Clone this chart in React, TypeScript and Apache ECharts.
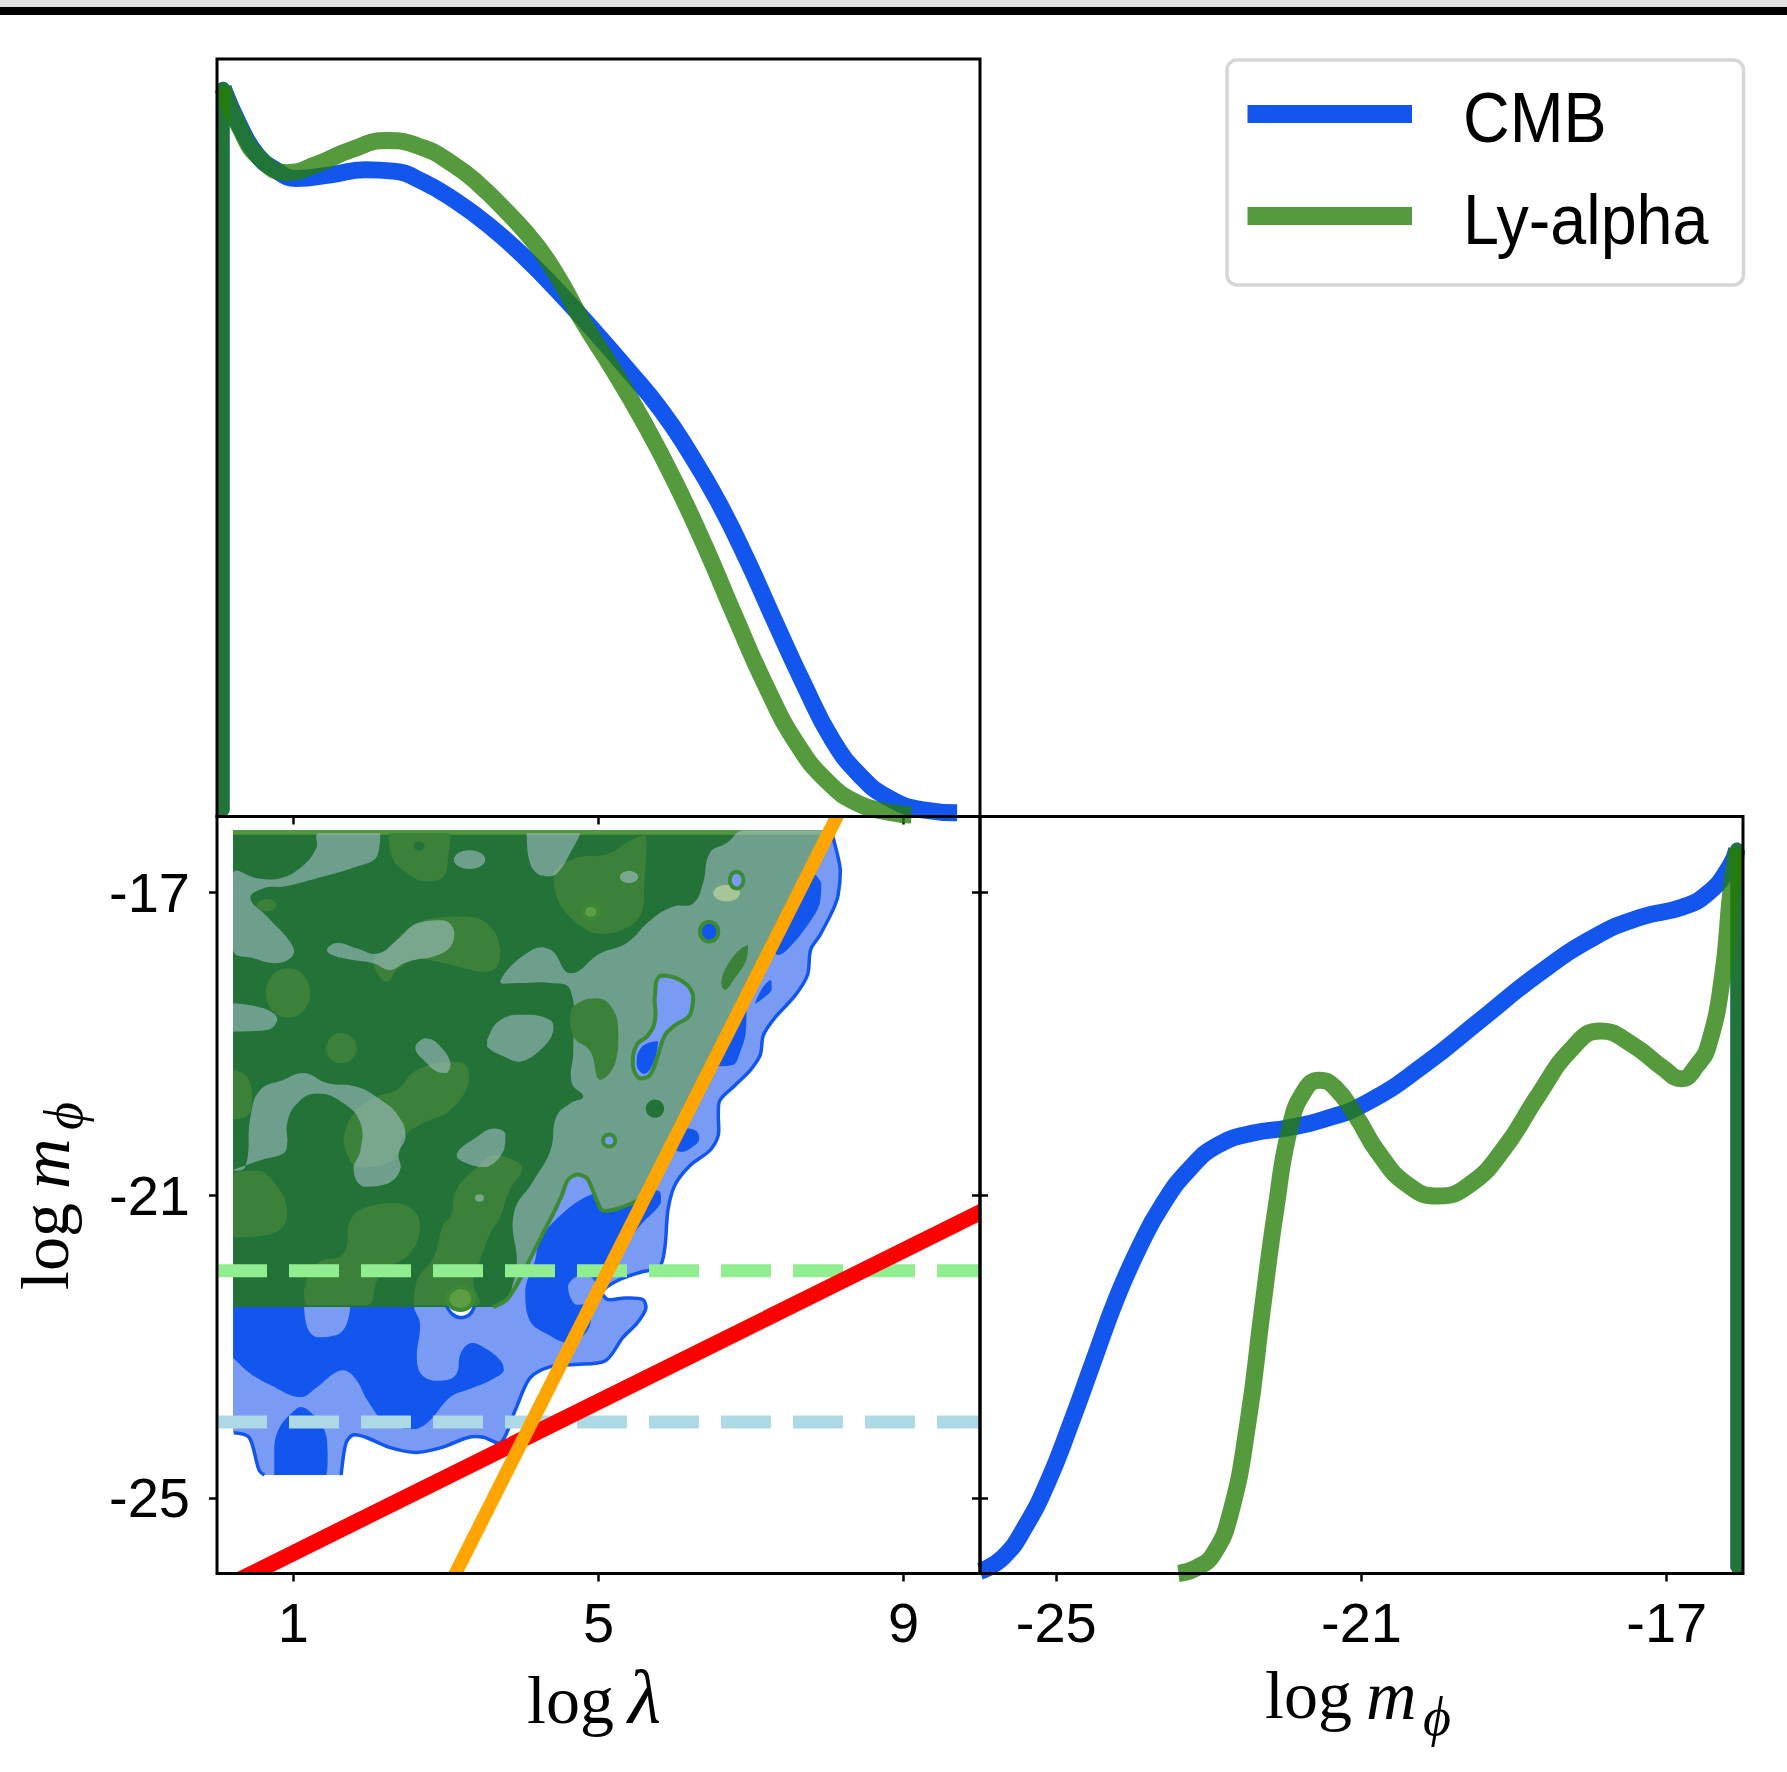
import React, { useEffect, useRef } from 'react';
import * as echarts from 'echarts';

type Pt = [number, number];
type Blob = [number, number, number, number]; // centre λ, centre m, radius λ, radius m

// ---------- 1-D marginal of log λ (top panel) ----------
const TOP_LAMBDA_CMB = [0.08, 0.30, 0.52, 0.75, 1.04, 1.49, 1.94, 2.31, 2.69, 3.13, 3.58, 4.03, 4.48, 4.93, 5.37, 5.82, 6.19, 6.57, 6.94, 7.31, 7.69, 8.06, 8.43, 8.81, 9.25, 9.70];
const TOP_DENS_CMB = [1.0, 0.948, 0.909, 0.889, 0.876, 0.881, 0.888, 0.886, 0.872, 0.845, 0.810, 0.768, 0.720, 0.668, 0.615, 0.558, 0.500, 0.432, 0.354, 0.268, 0.182, 0.106, 0.056, 0.025, 0.009, 0.005];
const TOP_LAMBDA_LYA = [0.08, 0.30, 0.55, 0.92, 1.30, 1.75, 2.23, 2.70, 3.10, 3.40, 3.80, 4.19, 4.50, 4.78, 5.20, 5.60, 6.00, 6.40, 6.80, 7.20, 7.60, 8.00, 8.40, 8.80, 9.10];
const TOP_DENS_LYA = [1.0, 0.945, 0.905, 0.884, 0.895, 0.915, 0.928, 0.918, 0.895, 0.871, 0.830, 0.784, 0.735, 0.682, 0.612, 0.540, 0.460, 0.370, 0.272, 0.178, 0.100, 0.048, 0.018, 0.006, 0.002];
const LAMBDA_EDGE = 0.08;

// ---------- 1-D marginal of log m_phi (right panel) ----------
const RIGHT_M_CMB = [-26.0, -25.70, -25.40, -25.10, -24.81, -24.51, -24.21, -23.91, -23.61, -23.24, -22.87, -22.42, -21.97, -21.52, -20.93, -20.18, -19.43, -18.69, -17.94, -17.34, -16.79, -16.45, -16.18, -16.08];
const RIGHT_DENS_CMB = [0.003, 0.022, 0.066, 0.129, 0.207, 0.294, 0.380, 0.451, 0.509, 0.560, 0.592, 0.608, 0.615, 0.626, 0.650, 0.702, 0.765, 0.827, 0.879, 0.906, 0.920, 0.940, 0.975, 1.0];
const RIGHT_M_LYA = [-23.40, -23.16, -22.94, -22.72, -22.49, -22.30, -22.12, -21.94, -21.75, -21.55, -21.34, -21.07, -20.78, -20.40, -20.00, -19.58, -19.13, -18.69, -18.24, -17.87, -17.45, -17.04, -16.81, -16.60, -16.45, -16.27, -16.16, -16.08];
const RIGHT_DENS_LYA = [0.0, 0.008, 0.027, 0.082, 0.207, 0.364, 0.505, 0.615, 0.666, 0.681, 0.670, 0.631, 0.581, 0.537, 0.521, 0.537, 0.587, 0.659, 0.725, 0.749, 0.730, 0.697, 0.683, 0.702, 0.730, 0.823, 0.940, 1.0];
const M_EDGE = -16.08;

const SERIES_NAMES = ['CMB', 'Ly-alpha'];
const LAMBDA_TICKS = [1, 5, 9];
const M_TICKS = [-25, -21, -17];

// ---------- reference lines of the 2-D panel ----------
const GREEN_DASH_M = -22;
const BLUE_DASH_M = -24;
const RED_LINE: Pt[] = [[0, -26.23], [10.5, -20.98]];
const ORANGE_LINE: Pt[] = [[3.0, -26.25], [8.3, -15.65]];

// ---------- CMB contours ----------
const CMB_OUTER_TOP: Pt[] = [[0.21, -16.23], [0.25, -16.23], [2, -16.23], [4, -16.23], [6, -16.23], [8.0, -16.23]];
const CMB_OUTER_EDGE: Pt[] = [
  [8.06, -16.23], [8.17, -16.71], [8.14, -17.04], [8.07, -17.24], [7.90, -17.57], [7.78, -17.76], [7.74, -18.09],
  [7.58, -18.36], [7.31, -18.66], [7.16, -18.89], [7.12, -19.15], [6.99, -19.35], [6.79, -19.55], [6.59, -19.75],
  [6.57, -19.95], [6.57, -20.21], [6.46, -20.41], [6.20, -20.61], [6.00, -20.87], [5.91, -21.20], [5.87, -21.69],
  [5.80, -21.95], [5.55, -22.02], [5.25, -22.13], [5.05, -22.28], [5.12, -22.38], [5.35, -22.36], [5.58, -22.38],
  [5.62, -22.50], [5.50, -22.70], [5.32, -22.88], [5.09, -23.19], [4.69, -23.24], [4.36, -23.27], [4.10, -23.42],
  [3.91, -23.84], [3.72, -24.27], [3.49, -24.20], [3.30, -24.20], [2.96, -24.33], [2.61, -24.40], [2.25, -24.33],
  [1.95, -24.20], [1.78, -24.17], [1.69, -24.28], [1.63, -24.66], [1.63, -24.70],
];
const CMB_OUTER_FOOT: Pt[] = [[1.59, -24.70], [0.66, -24.70], [0.62, -24.70], [0.55, -24.63], [0.42, -24.20], [0.22, -24.14]];
const CMB_OUTER_LEFT: Pt[] = [[0.21, -24.10], [0.21, -22], [0.21, -20], [0.21, -18], [0.21, -16.27]];

const CMB_DARK: Pt[][] = [
  [[0.21, -22.3], [0.21, -23.14], [0.24, -23.18], [0.44, -23.36], [0.70, -23.51], [1.09, -23.67], [1.31, -23.54], [1.53, -23.36],
   [1.68, -23.32], [1.83, -23.45], [1.97, -23.71], [2.18, -23.98], [2.45, -24.09], [2.62, -24.09], [2.79, -23.98], [3.06, -23.67],
   [3.32, -23.56], [3.58, -23.45], [3.76, -23.32], [3.71, -23.18], [3.49, -23.01], [3.32, -22.96], [3.19, -23.10], [3.14, -23.36],
   [2.97, -23.45], [2.71, -23.40], [2.62, -23.18], [2.66, -22.70], [2.58, -22.48], [2.58, -22.3]],
  [[0.75, -24.70], [0.75, -24.33], [0.82, -24.07], [0.99, -23.87], [1.10, -23.80], [1.25, -23.89], [1.41, -24.11], [1.45, -24.42], [1.43, -24.70]],
  [[7.72, -16.7], [7.92, -16.88], [7.90, -17.15], [7.73, -17.45], [7.51, -17.72], [7.36, -17.83], [7.28, -17.75], [7.45, -17.32], [7.6, -16.97]],
  [[7.05, -18.47], [7.07, -18.42], [7.16, -18.25], [7.26, -18.16], [7.27, -18.29], [7.16, -18.40]],
  [[6.57, -19.30], [6.72, -19.0], [6.90, -18.64], [6.94, -18.56], [6.93, -18.86], [6.85, -19.13], [6.77, -19.28]],
  [[6.02, -20.41], [6.16, -20.12], [6.29, -20.16], [6.32, -20.27], [6.24, -20.36], [6.11, -20.43]],
  [[4.23, -21.6], [4.5, -21.27], [4.89, -21.0], [5.35, -20.9], [5.8, -20.95], [5.82, -21.1], [5.55, -21.4], [5.3, -21.72],
   [5.1, -21.9], [4.98, -22.15], [4.92, -22.5], [4.85, -22.8], [4.6, -22.95], [4.35, -22.85], [4.1, -22.66], [4.04, -22.26], [4.17, -21.86]],
];
const CMB_LIGHT: Pt[][] = [
  [[1.14, -22.4], [1.75, -22.4], [1.70, -22.70], [1.57, -22.85], [1.31, -22.88], [1.18, -22.74]],
  [[4.6, -22.2], [4.8, -22.05], [4.95, -22.15], [4.9, -22.4], [4.7, -22.45]],
];
const CMB_GAP: Pt[] = [[3.0, -22.44], [3.08, -22.57], [3.2, -22.62], [3.32, -22.57], [3.38, -22.44]];

// ---------- Ly-alpha contours ----------
const LYA_EDGE: Pt[] = [
  [5.545, -21.06], [5.25, -21.18], [5.05, -21.2], [4.95, -21.0], [4.85, -20.78], [4.72, -20.73], [4.60, -20.8], [4.52, -21.0],
  [4.42, -21.22], [4.30, -21.45], [4.15, -21.75], [3.95, -22.15], [3.80, -22.38], [3.62, -22.48],
];
const LYA_BASE_TOP: Pt[] = [[0.21, -16.18], [0.25, -16.18], [2, -16.18], [4, -16.18], [6, -16.18], [7.95, -16.18], [7.985, -16.18],
  [7.485, -17.18], [6.985, -18.18], [6.485, -19.18], [5.985, -20.18]];
const LYA_BASE_BOTTOM: Pt[] = [[3.55, -22.48], [2.5, -22.48], [1.2, -22.48], [0.25, -22.48], [0.21, -22.48], [0.21, -22.44],
  [0.21, -21], [0.21, -19], [0.21, -17.5], [0.21, -16.22]];
const LYA_RIM: Pt[] = [[0.21, -16.18], [7.985, -16.18], [7.955, -16.24], [0.21, -16.24]];

const LYA_MID: Pt[][] = [
  [[2.25, -16.22], [3.06, -16.22], [3.03, -16.53], [2.97, -16.79], [2.75, -16.86], [2.49, -16.75], [2.29, -16.53]],
  [[2.05, -17.89], [2.23, -17.76], [2.49, -17.50], [2.84, -17.34], [3.28, -17.32], [3.58, -17.45], [3.71, -17.76], [3.67, -17.98],
   [3.49, -18.05], [3.23, -18.00], [2.97, -17.94], [2.62, -17.89], [2.36, -18.03], [2.23, -18.18], [2.10, -18.07]],
  [[1.66, -20.23], [1.83, -19.88], [2.10, -19.70], [2.36, -19.61], [2.62, -19.35], [3.06, -19.24], [3.28, -19.30], [3.30, -19.52],
   [3.06, -19.88], [2.71, -20.05], [2.45, -20.23], [2.36, -20.49], [2.05, -20.63], [1.83, -20.63], [1.70, -20.45]],
  [[3.06, -21.29], [3.14, -20.93], [3.41, -20.63], [3.62, -20.47], [3.89, -20.54], [4.00, -20.65], [3.84, -20.93], [3.71, -21.29],
   [3.58, -21.51], [3.45, -21.86], [3.36, -22.13], [3.41, -22.46], [2.58, -22.46], [2.62, -22.13], [2.84, -21.82], [2.97, -21.38]],
  [[1.18, -22.46], [1.14, -22.26], [1.31, -21.91], [1.66, -21.77], [1.75, -21.33], [1.97, -21.16], [2.36, -21.11], [2.62, -21.25],
   [2.66, -21.47], [2.53, -21.77], [2.27, -21.95], [2.10, -22.13], [1.97, -22.46]],
  [[0.21, -20.72], [0.55, -20.68], [0.80, -20.9], [0.92, -21.2], [0.88, -21.4], [0.66, -21.53], [0.21, -21.56]],
  [[0.21, -19.35], [0.4, -19.45], [0.46, -19.75], [0.4, -19.95], [0.21, -20.0]],
  [[4.41, -16.75], [4.7, -16.55], [5.1, -16.5], [5.45, -16.3], [5.63, -16.24], [5.6, -16.9], [5.55, -17.3], [5.3, -17.5],
   [5.02, -17.55], [4.85, -17.5], [4.6, -17.3], [4.45, -17.05]],
];
const LYA_MID_BLOBS: Blob[] = [[0.93, -18.33, 0.29, 0.33], [1.63, -19.06, 0.2, 0.2], [0.65, -17.17, 0.13, 0.08]];

const LYA_PALE: Pt[][] = [
  [[0.21, -16.75], [0.524, -16.815], [0.830, -16.815], [1.114, -16.661], [1.301, -16.419], [1.332, -16.22], [2.140, -16.22],
   [2.096, -16.529], [1.834, -16.661], [1.310, -16.815], [0.873, -16.925], [0.611, -16.947], [0.437, -17.079], [0.655, -17.322],
   [0.983, -17.696], [0.983, -17.850], [0.764, -17.938], [0.480, -17.872], [0.21, -17.762]],
  [[4.06, -16.22], [4.76, -16.22], [4.63, -16.48], [4.50, -16.70], [4.37, -16.79], [4.19, -16.75], [4.08, -16.53]],
  [[1.44, -17.76], [1.57, -17.67], [1.83, -17.74], [2.10, -17.81], [2.36, -17.63], [2.62, -17.41], [2.97, -17.37], [3.11, -17.52],
   [3.06, -17.72], [2.84, -17.85], [2.62, -17.89], [2.45, -17.94], [2.27, -18.03], [2.05, -17.94], [1.75, -17.89], [1.51, -17.83]],
  [[0.21, -18.47], [0.52, -18.51], [0.74, -18.60], [0.79, -18.69], [0.66, -18.82], [0.21, -18.84]],
  [[2.62, -19.00], [2.75, -18.93], [2.93, -19.04], [3.06, -19.26], [3.01, -19.39], [2.88, -19.37], [2.71, -19.22], [2.60, -19.08]],
  [[3.54, -18.95], [3.71, -18.69], [4.02, -18.62], [4.37, -18.69], [4.41, -18.82], [4.28, -19.04], [3.97, -19.24], [3.76, -19.17], [3.54, -19.04]],
  [[0.21, -20.67], [0.37, -20.63], [0.44, -19.96], [0.57, -19.61], [0.87, -19.48], [1.14, -19.39], [1.44, -19.52], [1.83, -19.57],
   [2.14, -19.74], [2.38, -19.96], [2.47, -20.23], [2.38, -20.45], [2.40, -20.67], [2.23, -20.85], [1.92, -20.89], [1.79, -20.67],
   [1.88, -20.41], [1.88, -20.05], [1.66, -19.79], [1.31, -19.66], [1.05, -19.79], [0.92, -20.05], [0.92, -20.32], [0.87, -20.45], [0.57, -20.54]],
  [[3.14, -20.47], [3.41, -20.23], [3.62, -20.12], [3.78, -20.19], [3.76, -20.41], [3.54, -20.63], [3.32, -20.60]],
  [[6.90, -16.18], [7.94, -16.18], [7.46, -17.14], [6.96, -18.14], [6.46, -19.14], [5.96, -20.14], [5.52, -21.04], [5.25, -21.16],
   [5.05, -21.18], [4.95, -21.0], [4.85, -20.80], [4.72, -20.75], [4.60, -20.82], [4.52, -21.0], [4.42, -21.22], [4.30, -21.45],
   [4.15, -21.75], [3.97, -22.12], [3.86, -22.28], [3.93, -21.91], [3.89, -21.25], [4.15, -20.81], [4.37, -20.41], [4.45, -19.96],
   [4.63, -19.79], [4.80, -19.70], [4.65, -19.52], [4.67, -19.08], [4.63, -18.29], [4.37, -18.20], [3.93, -18.20], [3.71, -18.18],
   [4.10, -17.78], [4.37, -17.76], [4.63, -18.07], [5.02, -17.81], [5.37, -17.67], [5.68, -17.37], [5.98, -17.19], [6.24, -17.15],
   [6.37, -16.88], [6.46, -16.48], [6.68, -16.35]],
];
const LYA_PALE_BLOBS: Blob[] = [[3.31, -16.57, 0.205, 0.123], [5.40, -16.80, 0.12, 0.08], [3.44, -21.04, 0.06, 0.05]];

const LYA_MID_UPPER: Pt[][] = [
  [[4.63, -18.64], [4.72, -18.47], [5.0, -18.4], [5.19, -18.55], [5.26, -18.86], [5.22, -19.26], [5.02, -19.48], [4.89, -19.1], [4.67, -18.91]],
  [[6.61, -18.20], [6.68, -17.98], [6.85, -17.76], [6.96, -17.70], [6.94, -17.89], [6.77, -18.16], [6.66, -18.29]],
];
const LYA_LIGHT_BLOBS: Blob[] = [[6.68, -17.01, 0.175, 0.11]];
const LYA_DARK_BLOBS: Blob[] = [[5.74, -19.86, 0.12, 0.12], [2.65, -16.39, 0.07, 0.06]];

// islands ringed by the Ly-alpha contour line
const RING_PALE: Blob[] = [[6.81, -16.84, 0.09, 0.11], [5.14, -20.28, 0.08, 0.08]];
const RING_DEEP: Blob[] = [[6.45, -17.52, 0.12, 0.13]];
const RING_GREEN: Blob[] = [[4.90, -17.26, 0.1, 0.09], [3.19, -22.37, 0.17, 0.15]];
const PEANUT: Pt[] = [[5.81, -18.10], [6.07, -18.16], [6.24, -18.36], [6.20, -18.62], [6.00, -18.76], [5.87, -18.89], [5.78, -19.15],
  [5.67, -19.42], [5.54, -19.46], [5.45, -19.28], [5.50, -19.02], [5.65, -18.89], [5.74, -18.69], [5.74, -18.36]];
const PEANUT_CORE: Pt[] = [[5.78, -18.97], [5.72, -19.25], [5.6, -19.40], [5.5, -19.28], [5.56, -19.05]];

// ---------- colours ----------
const BLUE = '#1356ee';
const BLUE_LIGHT = '#7a9bf3';
const GREEN_LINE = 'rgb(37,126,6)';
const GREEN_ALPHA = 0.78;
const GREEN_DARK = '#237339';
const GREEN_MID = '#3b8139';
const GREEN_RIM = '#52963f';
const GREEN_EDGE = '#3d8a35';
const PALE = 'rgba(185,204,226,0.5)';

const SANS = 'Liberation Sans';
const SERIF = 'Liberation Serif';

function bounds(pts: number[][]) {
  let x0 = Infinity, y0 = Infinity, x1 = -Infinity, y1 = -Infinity;
  for (const p of pts) {
    x0 = Math.min(x0, p[0]); y0 = Math.min(y0, p[1]);
    x1 = Math.max(x1, p[0]); y1 = Math.max(y1, p[1]);
  }
  return [[x0, y0], [x1, y1]];
}

// filled (or stroked) contour pieces drawn in the 2-D panel
function shapeLayer(shapes: { pts: Pt[]; frame?: Pt[]; closed?: boolean }[], style: any, smooth: number, z = 2) {
  return {
    type: 'custom', xAxisIndex: 1, yAxisIndex: 1, z, silent: true, clip: true,
    data: shapes.map((s, i) => [s.pts[0][0], s.pts[0][1], i]),
    encode: { x: 0, y: 1 },
    renderItem: (params: any, api: any) => {
      const s = shapes[params.dataIndex];
      const pts = s.pts.map((p) => api.coord(p));
      const frame = (s.frame || s.pts).map((p) => api.coord(p));
      return {
        type: s.closed === false ? 'polyline' : 'polygon',
        shape: { points: pts, smooth, smoothConstraint: bounds(frame) },
        style,
      };
    },
  };
}

function blobLayer(blobs: Blob[], style: any, z = 2) {
  return {
    type: 'custom', xAxisIndex: 1, yAxisIndex: 1, z, silent: true, clip: true,
    data: blobs.map((b) => [b[0], b[1]]),
    encode: { x: 0, y: 1 },
    renderItem: (params: any, api: any) => {
      const b = blobs[params.dataIndex];
      const c = api.coord([b[0], b[1]]);
      const s = api.size([b[2], b[3]]);
      return { type: 'ellipse', shape: { cx: c[0], cy: c[1], rx: s[0], ry: s[1] }, style };
    },
  };
}

function straightLayer(lines: Pt[][], style: any, z: number) {
  return {
    type: 'custom', xAxisIndex: 1, yAxisIndex: 1, z, silent: true, clip: true,
    data: lines.map((l) => [l[0][0], l[0][1], l[1][0], l[1][1]]),
    encode: { x: [0, 2], y: [1, 3] },
    renderItem: (params: any, api: any) => {
      const l = lines[params.dataIndex];
      const a = api.coord(l[0]);
      const b = api.coord(l[1]);
      return { type: 'line', shape: { x1: a[0], y1: a[1], x2: b[0], y2: b[1] }, style };
    },
  };
}

const zip = (xs: number[], ys: number[]) => xs.map((x, i) => [x, ys[i]]);

function curve(xi: number, yi: number, data: number[][], color: string, opacity: number, width: number, smooth: number | boolean, cap: string) {
  return {
    type: 'line', xAxisIndex: xi, yAxisIndex: yi, data, smooth, symbol: 'none', silent: true, z: 3,
    lineStyle: { color, width, opacity, cap, join: 'round' },
  };
}

function buildOption() {
  const cmbOuter = [...CMB_OUTER_TOP, ...CMB_OUTER_EDGE, ...CMB_OUTER_FOOT, ...CMB_OUTER_LEFT];
  const lyaBase = [...LYA_BASE_TOP, ...LYA_EDGE, ...LYA_BASE_BOTTOM];
  const tickStyle = { show: true, length: 8, lineStyle: { color: '#000', width: 2.5 } };
  const labelStyle = { color: '#000', fontSize: 56, fontFamily: SANS };

  const gridBase = { show: true, borderColor: '#000', borderWidth: 3, backgroundColor: 'transparent', z: 50 };

  const series: any[] = [
    // CMB contours
    shapeLayer([{ pts: cmbOuter }], { fill: BLUE_LIGHT, stroke: 'none' }, 0.3),
    shapeLayer(CMB_DARK.map((p) => ({ pts: p })), { fill: BLUE, stroke: 'none' }, 0.4),
    shapeLayer(CMB_LIGHT.map((p) => ({ pts: p })), { fill: BLUE_LIGHT, stroke: 'none' }, 0.4),
    shapeLayer([{ pts: CMB_GAP }], { fill: '#ffffff', stroke: BLUE, lineWidth: 3.5 }, 0.4),
    shapeLayer([
      { pts: CMB_OUTER_EDGE, frame: cmbOuter, closed: false },
      { pts: CMB_OUTER_FOOT.slice(2), frame: cmbOuter, closed: false },
    ], { fill: 'none', stroke: BLUE, lineWidth: 3.5, lineJoin: 'round' }, 0.3),
    // Ly-alpha contours
    shapeLayer([{ pts: lyaBase }], { fill: GREEN_DARK, stroke: 'none' }, 0.3),
    shapeLayer([{ pts: LYA_RIM }], { fill: GREEN_RIM, stroke: 'none' }, 0),
    shapeLayer(LYA_MID.map((p) => ({ pts: p })), { fill: GREEN_MID, stroke: 'none' }, 0.45),
    blobLayer(LYA_MID_BLOBS, { fill: GREEN_MID }),
    shapeLayer(LYA_PALE.map((p) => ({ pts: p })), { fill: PALE, stroke: 'none' }, 0.45),
    blobLayer(LYA_PALE_BLOBS, { fill: PALE }),
    shapeLayer(LYA_MID_UPPER.map((p) => ({ pts: p })), { fill: GREEN_MID, stroke: 'none' }, 0.45),
    blobLayer(LYA_LIGHT_BLOBS, { fill: '#a6c697' }),
    blobLayer(LYA_DARK_BLOBS, { fill: GREEN_DARK }),
    shapeLayer([{ pts: LYA_EDGE, frame: lyaBase, closed: false }], { fill: 'none', stroke: GREEN_EDGE, lineWidth: 4, lineJoin: 'round' }, 0.3),
    shapeLayer([{ pts: PEANUT }], { fill: BLUE_LIGHT, stroke: 'none' }, 0.45),
    shapeLayer([{ pts: PEANUT_CORE }], { fill: BLUE, stroke: 'none' }, 0.45),
    shapeLayer([{ pts: PEANUT }], { fill: 'none', stroke: GREEN_EDGE, lineWidth: 4 }, 0.45),
    blobLayer(RING_PALE, { fill: BLUE_LIGHT, stroke: GREEN_EDGE, lineWidth: 4 }),
    blobLayer(RING_DEEP, { fill: BLUE, stroke: GREEN_EDGE, lineWidth: 4 }),
    blobLayer(RING_GREEN, { fill: '#5d9d46', stroke: GREEN_EDGE, lineWidth: 4 }),
    // bounds drawn over the posteriors
    straightLayer([[[0, GREEN_DASH_M], [10, GREEN_DASH_M]]], { stroke: '#90ee90', lineWidth: 13, lineDash: [50, 22], lineCap: 'butt' }, 3),
    straightLayer([[[0, BLUE_DASH_M], [10, BLUE_DASH_M]]], { stroke: '#add8e6', lineWidth: 13, lineDash: [50, 22], lineCap: 'butt' }, 3),
    straightLayer([RED_LINE], { stroke: '#ff0000', lineWidth: 16, lineCap: 'butt' }, 4),
    straightLayer([ORANGE_LINE], { stroke: '#ffa500', lineWidth: 13.5, lineCap: 'butt' }, 5),
    // marginals
    curve(0, 0, [[LAMBDA_EDGE, 0.009], [LAMBDA_EDGE, 1.0]], BLUE, 1, 13, false, 'round'),
    curve(0, 0, zip(TOP_LAMBDA_CMB, TOP_DENS_CMB), BLUE, 1, 17, 0.5, 'butt'),
    curve(0, 0, [[LAMBDA_EDGE, 0.009], [LAMBDA_EDGE, 1.0]], GREEN_LINE, GREEN_ALPHA, 13, false, 'round'),
    curve(0, 0, zip(TOP_LAMBDA_LYA, TOP_DENS_LYA), GREEN_LINE, GREEN_ALPHA, 17, 0.5, 'butt'),
    curve(2, 3, zip(RIGHT_M_CMB, RIGHT_DENS_CMB), BLUE, 1, 17, 0.5, 'butt'),
    curve(2, 3, [[M_EDGE, 1.0], [M_EDGE, 0.009]], BLUE, 1, 13, false, 'round'),
    curve(2, 3, zip(RIGHT_M_LYA, RIGHT_DENS_LYA), GREEN_LINE, GREEN_ALPHA, 17, 0.5, 'butt'),
    curve(2, 3, [[M_EDGE, 1.0], [M_EDGE, 0.009]], GREEN_LINE, GREEN_ALPHA, 13, false, 'round'),
  ];

  const legendTexts = SERIES_NAMES.map((name, i) => ({
    type: 'text', x: 1463, y: i === 0 ? 117 : 219, scaleX: 0.91, z: 101,
    style: { text: name, fill: '#000', font: `71px "${SANS}"`, textAlign: 'left', textVerticalAlign: 'middle' },
  }));
  const legendLines = SERIES_NAMES.map((_, i) => ({
    type: 'line', z: 101,
    shape: { x1: 1247.5, y1: i === 0 ? 114 : 216, x2: 1412, y2: i === 0 ? 114 : 216 },
    style: { stroke: i === 0 ? BLUE : GREEN_LINE, opacity: i === 0 ? 1 : GREEN_ALPHA, lineWidth: 18, lineCap: 'butt' },
  }));

  const serifFont = (size: number, italic: boolean) => `${italic ? 'italic ' : ''}${size}px "${SERIF}"`;

  return {
    animation: false,
    backgroundColor: '#ffffff',
    grid: [
      { ...gridBase, left: 217, top: 59, width: 763, height: 757.5 },
      { ...gridBase, left: 217, top: 816.5, width: 763, height: 757 },
      { ...gridBase, left: 980, top: 816.5, width: 763, height: 757 },
    ],
    xAxis: [
      { gridIndex: 0, type: 'value', min: 0, max: 10, axisLine: { show: false }, splitLine: { show: false },
        axisTick: { ...tickStyle, customValues: LAMBDA_TICKS }, axisLabel: { show: false } },
      { gridIndex: 1, type: 'value', min: 0, max: 10, axisLine: { show: false }, splitLine: { show: false },
        axisTick: { ...tickStyle, customValues: LAMBDA_TICKS },
        axisLabel: { ...labelStyle, margin: 21, customValues: LAMBDA_TICKS } },
      { gridIndex: 2, type: 'value', min: -26, max: -16, axisLine: { show: false }, splitLine: { show: false },
        axisTick: { ...tickStyle, customValues: M_TICKS },
        axisLabel: { ...labelStyle, margin: 21, customValues: M_TICKS } },
    ],
    yAxis: [
      { gridIndex: 0, type: 'value', min: 0, max: 1.04, show: false },
      { gridIndex: 1, type: 'value', min: -26, max: -16, position: 'left', axisLine: { show: false }, splitLine: { show: false },
        axisTick: { ...tickStyle, customValues: M_TICKS },
        axisLabel: { ...labelStyle, margin: 27, customValues: M_TICKS } },
      { gridIndex: 1, type: 'value', min: -26, max: -16, position: 'right', axisLine: { show: false }, splitLine: { show: false },
        axisTick: { ...tickStyle, customValues: M_TICKS }, axisLabel: { show: false } },
      { gridIndex: 2, type: 'value', min: 0, max: 1.045, show: false },
      { gridIndex: 1, type: 'value', min: -26, max: -16, position: 'right', axisLine: { show: false }, splitLine: { show: false },
        axisTick: { ...tickStyle, inside: true, customValues: M_TICKS }, axisLabel: { show: false } },
    ],
    series,
    graphic: [
      { type: 'rect', z: 0, shape: { x: 0, y: 0, width: 1787, height: 7 }, style: { fill: '#e1e1e1' } },
      { type: 'rect', z: 0, shape: { x: 0, y: 7, width: 1787, height: 8 }, style: { fill: '#000' } },
      { type: 'rect', z: 100, shape: { x: 1227, y: 60, width: 516.5, height: 225, r: 10 },
        style: { fill: '#fff', stroke: '#d6d6d6', lineWidth: 3.5 } },
      ...legendLines,
      ...legendTexts,
      // x title of the 2-D panel
      { type: 'text', x: 527, y: 1700, style: { text: 'log', font: serifFont(68, false), fill: '#000', textVerticalAlign: 'middle' } },
      { type: 'text', x: 628, y: 1697, style: { text: 'λ', font: serifFont(76, true), fill: '#000', textVerticalAlign: 'middle' } },
      // x title of the right marginal
      { type: 'text', x: 1265, y: 1695, style: { text: 'log', font: serifFont(68, false), fill: '#000', textVerticalAlign: 'middle' } },
      { type: 'text', x: 1366, y: 1695, style: { text: 'm', font: serifFont(70, true), fill: '#000', textVerticalAlign: 'middle' } },
      { type: 'text', x: 1423, y: 1717, style: { text: 'ϕ', font: serifFont(54, true), fill: '#000', textVerticalAlign: 'middle' } },
      // y title of the 2-D panel
      {
        type: 'group', x: 68, y: 1290, rotation: Math.PI / 2,
        children: [
          { type: 'text', x: 0, y: -23, style: { text: 'log', font: serifFont(68, false), fill: '#000', textVerticalAlign: 'middle' } },
          { type: 'text', x: 101, y: -23, style: { text: 'm', font: serifFont(70, true), fill: '#000', textVerticalAlign: 'middle' } },
          { type: 'text', x: 160, y: -4, style: { text: 'ϕ', font: serifFont(54, true), fill: '#000', textVerticalAlign: 'middle' } },
        ],
      },
    ],
  };
}

export default function App() {
  const ref = useRef<HTMLDivElement>(null);
  useEffect(() => {
    document.body.style.margin = '0';
    const chart = echarts.init(ref.current!, null, { renderer: 'svg', width: 1787, height: 1772 });
    chart.setOption(buildOption() as any);
    return () => chart.dispose();
  }, []);
  return (
    <div
      ref={ref}
      style={{ position: 'absolute', left: 0, top: 0, width: 1787, height: 1772, background: '#fff' }}
    />
  );
}
